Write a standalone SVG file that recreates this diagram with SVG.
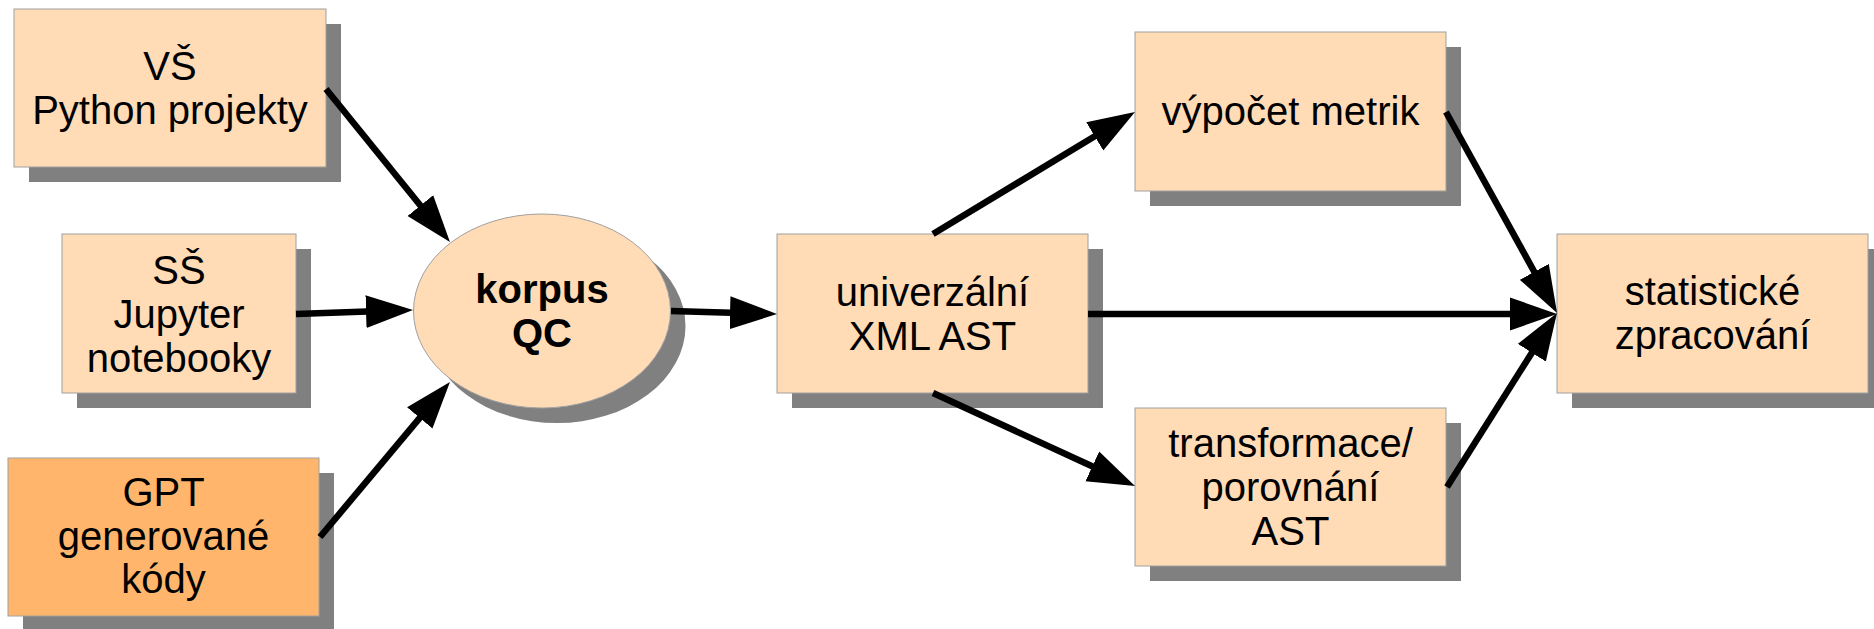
<svg xmlns="http://www.w3.org/2000/svg" width="1874" height="629" viewBox="0 0 1874 629">
  <style>
    .shadow { fill: #808080; }
    .box { fill: #ffdbb6; stroke: #a0a0a0; stroke-width: 1; }
    .box-gpt { fill: #ffb66c; stroke: #a0a0a0; stroke-width: 1; }
    .label { font-family: "Liberation Sans", Arial, sans-serif; font-size: 40px; fill: #000; text-anchor: middle; }
    .bold { font-weight: bold; }
    .edge { stroke: #000; stroke-width: 6.5; fill: none; marker-end: url(#head); }
  </style>
  <defs>
    <marker id="head" markerUnits="userSpaceOnUse" viewBox="0 0 48 34" markerWidth="48" markerHeight="34" refX="1" refY="17" orient="auto">
      <path d="M0,0.5 L47,17 L0,33.5 z" fill="#000"/>
    </marker>
  </defs>

  <rect width="1874" height="629" fill="#fff"/>

  <g id="node-vs">
    <rect class="shadow" x="29" y="24" width="312" height="158"/>
    <rect class="box" x="14" y="9" width="312" height="158"/>
    <text class="label" x="170" y="80">VŠ</text>
    <text class="label" x="170" y="124">Python projekty</text>
  </g>

  <g id="node-ss">
    <rect class="shadow" x="77" y="249" width="234" height="159"/>
    <rect class="box" x="62" y="234" width="234" height="159"/>
    <text class="label" x="179" y="283.5">SŠ</text>
    <text class="label" x="179" y="328">Jupyter</text>
    <text class="label" x="179" y="372">notebooky</text>
  </g>

  <g id="node-gpt">
    <rect class="shadow" x="23" y="473" width="311" height="158"/>
    <rect class="box-gpt" x="8" y="458" width="311" height="158"/>
    <text class="label" x="163.5" y="506">GPT</text>
    <text class="label" x="163.5" y="549.5">generované</text>
    <text class="label" x="163.5" y="593">kódy</text>
  </g>

  <g id="node-korpus">
    <ellipse class="shadow" cx="557" cy="326" rx="128.5" ry="97"/>
    <ellipse class="box" cx="542" cy="311" rx="128.5" ry="97"/>
    <text class="label bold" x="542" y="303">korpus</text>
    <text class="label bold" x="542" y="347">QC</text>
  </g>

  <g id="node-ast">
    <rect class="shadow" x="792" y="249" width="311" height="159"/>
    <rect class="box" x="777" y="234" width="311" height="159"/>
    <text class="label" x="932.5" y="306">univerzální</text>
    <text class="label" x="932.5" y="350">XML AST</text>
  </g>

  <g id="node-metriky">
    <rect class="shadow" x="1150" y="47" width="311" height="159"/>
    <rect class="box" x="1135" y="32" width="311" height="159"/>
    <text class="label" x="1290.5" y="125">výpočet metrik</text>
  </g>

  <g id="node-transformace">
    <rect class="shadow" x="1150" y="423" width="311" height="158"/>
    <rect class="box" x="1135" y="408" width="311" height="158"/>
    <text class="label" x="1290.5" y="457">transformace/</text>
    <text class="label" x="1290.5" y="501">porovnání</text>
    <text class="label" x="1290.5" y="545">AST</text>
  </g>

  <g id="node-statistika">
    <rect class="shadow" x="1572" y="249" width="311" height="159"/>
    <rect class="box" x="1557" y="234" width="311" height="159"/>
    <text class="label" x="1712.5" y="305">statistické</text>
    <text class="label" x="1712.5" y="349">zpracování</text>
  </g>

  <!-- connectors: each line stops at the arrowhead base, the marker adds the head -->
  <g id="connectors">
    <line class="edge" x1="326" y1="89" x2="421" y2="206.3"/>
    <line class="edge" x1="296" y1="314" x2="367" y2="311.6"/>
    <line class="edge" x1="320" y1="537" x2="420.4" y2="417.2"/>
    <line class="edge" x1="671" y1="311" x2="731" y2="312.7"/>
    <line class="edge" x1="933" y1="234" x2="1095.6" y2="135.8"/>
    <line class="edge" x1="933" y1="393" x2="1093.2" y2="466.8"/>
    <line class="edge" x1="1088" y1="314" x2="1511" y2="314"/>
    <line class="edge" x1="1446" y1="112" x2="1534.8" y2="272.7"/>
    <line class="edge" x1="1447" y1="487" x2="1532.4" y2="351.9"/>
  </g>
</svg>
